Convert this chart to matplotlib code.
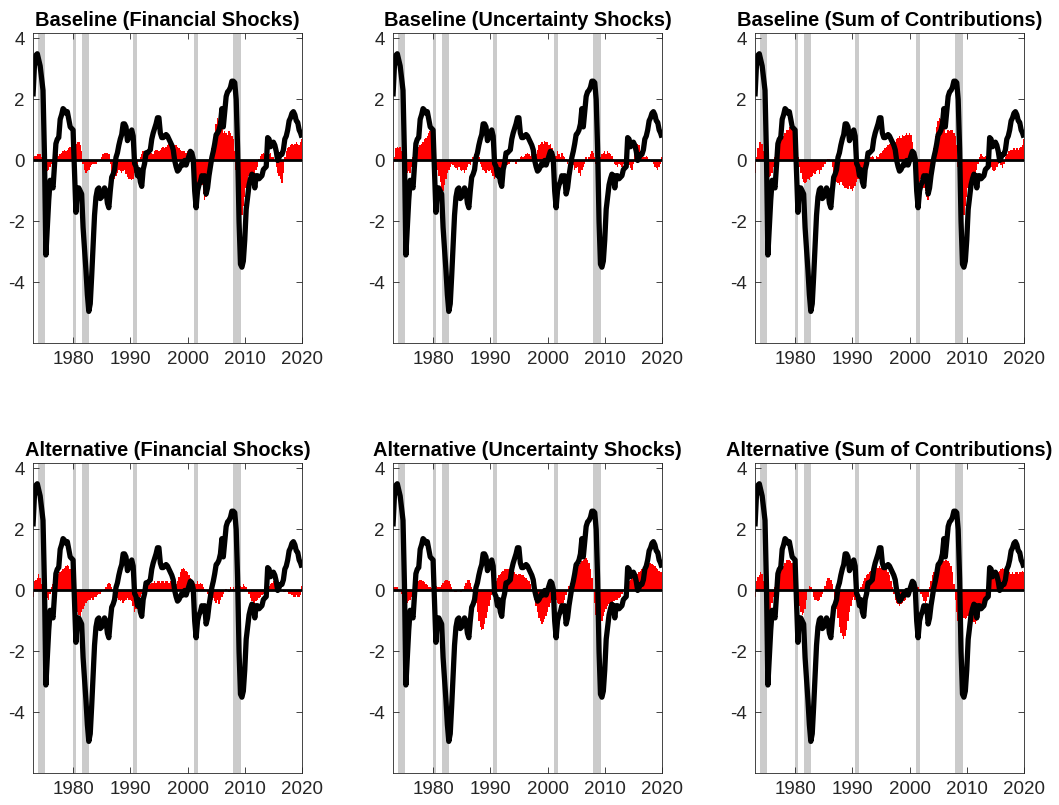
import numpy as np
import matplotlib
matplotlib.use("Agg")
import matplotlib.pyplot as plt

plt.rcParams['font.family'] = ['Liberation Sans', 'DejaVu Sans']

# quarterly dates 1973Q1 .. 2020Q1
start_year = 1973.0
end_year = 2020.0

titles = ["Baseline (Financial Shocks)", "Baseline (Uncertainty Shocks)", "Baseline (Sum of Contributions)",
          "Alternative (Financial Shocks)", "Alternative (Uncertainty Shocks)", "Alternative (Sum of Contributions)"]

xticks = [1980, 1990, 2000, 2010, 2020]
yticks = [-4, -2, 0, 2, 4]

# NBER recessions (start, end)
recessions = [(1973.83, 1975.17), (1980.0, 1980.5), (1981.5, 1982.83),
              (1990.5, 1991.17), (2001.17, 2001.83), (2007.92, 2009.42)]

# black line (same in every panel)
actual = [
    2.1, 3.1, 3.45, 3.5,      # 1973
    3.3, 3.1, 2.7, 2.3,       # 1974
    0.2, -3.1, -2.2, -1.3,    # 1975
    -0.65, -0.8, -0.9, -0.2,  # 1976
    0.55, 0.7, 0.75, 1.35,    # 1977
    1.5, 1.7, 1.65, 1.55,     # 1978
    1.6, 1.35, 1.1, 1.05,     # 1979
    1.0, -0.3, -1.7, -0.9,    # 1980
    -0.9, -1.0, -1.1, -2.2,   # 1981
    -2.9, -3.6, -4.4, -4.95,  # 1982
    -4.7, -3.8, -2.8, -1.8,   # 1983
    -1.2, -0.95, -0.9, -1.25, # 1984
    -1.2, -1.1, -0.9, -1.0,   # 1985
    -1.4, -1.55, -1.0, -0.55, # 1986
    -0.45, -0.3, 0.1, 0.25,   # 1987
    0.5, 0.7, 0.85, 1.2,      # 1988
    1.2, 1.1, 0.65, 0.75,     # 1989
    0.9, 1.0, 0.8, -0.1,      # 1990
    -0.2, -0.5, -0.3, -0.7,   # 1991
    -0.85, -0.3, -0.1, 0.25,  # 1992
    0.25, 0.3, 0.35, 0.7,     # 1993
    0.9, 1.05, 1.2, 1.4,      # 1994
    1.4, 0.9, 0.75, 0.75,     # 1995
    0.8, 0.85, 0.8, 0.7,      # 1996
    0.6, 0.5, 0.35, 0.0,      # 1997
    -0.2, -0.35, -0.3, -0.2,  # 1998
    -0.1, -0.15, 0.0, -0.15,  # 1999
    0.0, 0.15, 0.3, 0.25,     # 2000
    0.05, -1.0, -1.55, -1.0,  # 2001
    -0.8, -0.7, -0.5, -0.6,   # 2002
    -0.5, -1.1, -0.9, -0.5,   # 2003
    -0.2, 0.1, 0.3, 0.55,     # 2004
    0.85, 0.9, 1.0, 1.2,      # 2005
    1.7, 1.1, 1.6, 2.1,       # 2006
    2.25, 2.3, 2.4, 2.6,      # 2007
    2.6, 2.55, 2.0, 0.4,      # 2008
    -2.0, -3.4, -3.5, -3.3,   # 2009
    -2.6, -1.6, -1.2, -0.8,   # 2010
    -0.6, -0.45, -0.5, -0.9,  # 2011
    -0.5, -0.5, -0.6, -0.55,  # 2012
    -0.5, -0.3, -0.25, -0.2,  # 2013
    0.75, 0.7, 0.45, 0.55,    # 2014
    0.6, 0.5, 0.3, 0.0,       # 2015
    0.1, 0.2, 0.2, 0.35,      # 2016
    0.7, 0.8, 1.0, 1.3,       # 2017
    1.4, 1.55, 1.6, 1.5,      # 2018
    1.3, 1.25, 1.0, 0.9,      # 2019
    0.75,                     # 2020
]

base_fin = [
    0.1, 0.15, 0.15, 0.2,  0.2, 0.2, 0.1, -0.1,  -0.4, -0.45, -0.35, -0.3,  -0.2, -0.1, 0.05, 0.1,
    0.15, 0.2, 0.15, 0.2,  0.25, 0.3, 0.35, 0.3,  0.35, 0.4, 0.45, 0.4,  0.3, 0.4, 0.55, 0.6,
    0.6, 0.5, 0.3, -0.1,  -0.3, -0.4, -0.35, -0.3,  -0.2, -0.15, -0.1, -0.1,  -0.1, -0.05, 0.0, 0.05,
    0.1, 0.2, 0.25, 0.25,  0.25, 0.2, -0.1, -0.4,  -0.55, -0.6, -0.5, -0.4,  -0.3, -0.35, -0.4, -0.35,
    -0.3, -0.45, -0.55, -0.6,  -0.6, -0.65, -0.6, -0.4,  -0.2, -0.1, 0.0, 0.1,  0.2, 0.3, 0.3, 0.25,
    0.3, 0.35, 0.3, 0.25,  0.2, 0.3, 0.35, 0.35,  0.3, 0.35, 0.4, 0.45,  0.4, 0.45, 0.5, 0.55,
    0.55, 0.6, 0.55, 0.5,  0.5, 0.45, 0.4, 0.35,  0.3, 0.3, 0.3, 0.25,  0.3, 0.3, 0.2, 0.1,
    -0.3, -1.1, -1.0, -0.9,  -0.8, -0.7, -0.8, -1.1,  -1.3, -1.2, -0.8, -0.4,  0.1, 0.4, 0.6, 0.9,
    1.2, 1.4, 1.3, 1.1,  1.2, 0.9, 0.95, 0.9,  0.85, 0.95, 0.9, 0.8,  0.7, 0.3, -0.3, -1.2,
    -2.0, -2.3, -1.8, -1.5,  -1.2, -0.9, -0.7, -0.5,  -0.5, -0.4, -0.5, -0.4,  -0.3, -0.2, 0.05, 0.15,
    0.2, 0.25, 0.2, 0.15,  0.1, 0.2, 0.25, 0.1,  0.1, 0.0, -0.2, -0.4,  -0.5, -0.6, -0.75, -0.4,
    0.1, 0.3, 0.4, 0.45,  0.5, 0.55, 0.5, 0.55,  0.6, 0.55, 0.5, 0.6,  0.7,
]

base_unc = [
    -0.3, 0.1, 0.4, 0.45,  0.4, 0.45, 0.3, 0.1,  -0.1, -0.3, -0.4, -0.35,  -0.4, -0.2, 0.1, 0.2,
    0.3, 0.4, 0.45, 0.5,  0.55, 0.6, 0.7, 0.75,  0.8, 0.9, 0.95, 0.8,  0.5, 0.1, -0.2, -0.3,
    -0.5, -0.7, -0.9, -1.0,  -0.8, -0.6, -0.4, -0.3,  -0.2, -0.1, -0.15, -0.2,  -0.25, -0.3, -0.2, -0.3,
    -0.35, -0.3, -0.4, -0.3,  -0.2, -0.1, -0.15, 0.0,  0.1, 0.2, 0.25, 0.15,  0.1, -0.1, -0.2, -0.3,
    -0.35, -0.4, -0.3, -0.35,  -0.3, -0.4, -0.5, -0.6,  -0.55, -0.6, -0.5, -0.3,  -0.2, -0.1, -0.2, -0.1,
    -0.15, -0.1, -0.05, 0.0,  -0.05, 0.0, -0.1, 0.05,  0.05, 0.1, 0.15, 0.1,  0.15, 0.2, 0.25, 0.2,
    0.15, 0.2, 0.1, 0.1,  0.2, 0.35, 0.5, 0.55,  0.6, 0.55, 0.65, 0.6,  0.6, 0.5, 0.55, 0.4,
    0.3, 0.2, 0.15, 0.3,  0.2, 0.1, 0.25, 0.15,  0.1, 0.05, -0.1, 0.0,  -0.1, -0.2, -0.15, -0.3,
    -0.25, -0.2, -0.4, -0.5,  -0.3, -0.2, -0.1, 0.1,  0.0, 0.1, 0.2, 0.3,  0.25, 0.1, -0.1, 0.0,
    0.05, 0.1, 0.2, 0.25,  0.3, 0.2, 0.3, 0.25,  0.2, 0.15, 0.05, -0.1,  -0.15, -0.2, -0.1, -0.15,
    -0.2, -0.1, -0.05, -0.1,  -0.2, -0.15, -0.25, -0.3,  -0.1, 0.2, 0.4, 0.55,  0.5, 0.3, 0.2, 0.1,
    0.1, 0.15, 0.1, 0.05,  0.0, -0.05, -0.1, -0.2,  -0.25, -0.3, -0.2, -0.1,  0.1,
]

base_sum = [
    -0.4, 0.1, 0.4, 0.6,  0.6, 0.55, 0.3, 0.0,  -0.5, -0.6, -0.55, -0.5,  -0.4, -0.2, 0.1, 0.3,
    0.4, 0.6, 0.6, 0.7,  0.8, 0.9, 1.0, 1.0,  1.1, 1.15, 1.2, 1.1,  1.0, 0.5, 0.1, -0.2,
    -0.4, -0.6, -0.7, -0.75,  -0.7, -0.6, -0.65, -0.55,  -0.5, -0.4, -0.45, -0.35,  -0.3, -0.45, -0.3, -0.2,
    -0.2, -0.1, 0.0, 0.05,  0.05, 0.0, -0.2, -0.5,  -0.6, -0.7, -0.75, -0.8,  -0.7, -0.8, -0.85, -0.9,
    -0.9, -0.95, -0.85, -0.95,  -1.0, -0.9, -0.85, -0.7,  -0.6, -0.55, -0.5, -0.5,  -0.45, -0.3, -0.2, -0.1,
    0.0, 0.1, 0.15, 0.1,  0.05, 0.15, 0.1, 0.2,  0.25, 0.3, 0.35, 0.4,  0.45, 0.5, 0.55, 0.6,
    0.6, 0.65, 0.6, 0.7,  0.75, 0.8, 0.75, 0.85,  0.8, 0.85, 0.9, 0.85,  0.9, 0.85, 0.6, 0.3,
    -0.2, -0.6, -0.8, -0.7,  -0.6, -0.7, -0.9, -1.0,  -1.2, -1.3, -1.0, -0.6,  -0.1, 0.4, 0.8, 1.1,
    1.3, 1.4, 1.35, 1.2,  1.1, 0.9, 0.9, 1.0,  0.95, 1.0, 1.0, 0.9,  0.8, 0.5, -0.2, -1.0,
    -1.6, -2.0, -1.8, -1.5,  -1.2, -0.9, -0.7, -0.6,  -0.55, -0.5, -0.45, -0.3,  -0.1, 0.1, 0.2, 0.15,
    0.1, 0.15, 0.1, 0.05,  -0.1, -0.2, -0.3, -0.35,  -0.3, -0.2, -0.1, -0.05,  -0.15, -0.25, -0.1, 0.1,
    0.2, 0.3, 0.3, 0.35,  0.35, 0.4, 0.35, 0.4,  0.35, 0.4, 0.45, 0.5,  0.7,
]

alt_fin = [
    -0.2, 0.3, 0.35, 0.4,  0.55, 0.4, 0.2, 0.0,  -0.2, -0.3, -0.25, -0.3,  -0.1, 0.1, 0.2, 0.3,
    0.4, 0.5, 0.55, 0.6,  0.65, 0.7, 0.75, 0.8,  0.85, 0.8, 0.7, 0.5,  0.2, -0.2, -0.5, -0.7,
    -0.8, -0.85, -0.7, -0.6,  -0.5, -0.4, -0.35, -0.3,  -0.3, -0.25, -0.3, -0.2,  -0.2, -0.15, -0.1, -0.1,
    -0.05, 0.0, 0.05, 0.1,  0.2, 0.25, 0.2, 0.1,  0.0, -0.1, -0.2, -0.25,  -0.3, -0.35, -0.3, -0.4,
    -0.35, -0.3, -0.25, -0.3,  -0.3, -0.35, -0.5, -0.7,  -0.6, -0.5, -0.3, -0.2,  -0.1, 0.0, 0.05, 0.1,
    0.15, 0.2, 0.2, 0.25,  0.25, 0.3, 0.25, 0.3,  0.3, 0.25, 0.3, 0.3,  0.25, 0.3, 0.3, 0.25,
    0.3, 0.25, 0.2, 0.15,  0.2, 0.3, 0.45, 0.6,  0.7, 0.75, 0.7, 0.65,  0.6, 0.5, 0.4, 0.35,
    0.3, 0.25, 0.2, 0.3,  0.2, 0.25, 0.2, 0.1,  0.05, 0.0, -0.1, -0.15,  -0.2, -0.3, -0.25, -0.35,
    -0.4, -0.3, -0.45, -0.3,  -0.2, -0.1, 0.0, 0.05,  0.0, -0.05, 0.1, 0.05,  0.1, 0.05, 0.15, 0.2,
    0.2, 0.15, 0.1, 0.2,  0.15, 0.1, 0.0, -0.1,  -0.25, -0.35, -0.4, -0.4,  -0.35, -0.3, -0.25, -0.2,
    -0.15, -0.1, -0.05, 0.05,  0.1, 0.15, 0.2, 0.25,  0.3, 0.35, 0.4, 0.3,  0.2, 0.1, 0.0, -0.05,
    -0.05, 0.0, -0.05, -0.1,  -0.1, -0.15, -0.2, -0.2,  -0.15, -0.2, -0.2, -0.15,  0.15,
]

alt_unc = [
    0.1, 0.12, 0.12, 0.1,  0.05, 0.0, -0.1, -0.2,  -0.3, -0.4, -0.4, -0.35,  -0.3, -0.2, -0.05, 0.1,
    0.2, 0.28, 0.32, 0.35,  0.35, 0.32, 0.28, 0.22,  0.18, 0.12, 0.1, 0.08,  0.1, 0.12, 0.15, 0.12,
    0.1, 0.12, 0.18, 0.25,  0.3, 0.35, 0.35, 0.3,  0.2, 0.1, 0.0, -0.05,  -0.05, 0.0, 0.0, -0.05,
    -0.05, 0.05, 0.15, 0.25,  0.35, 0.35, 0.25, 0.1,  -0.05, -0.2, -0.4, -0.7,  -1.0, -1.2, -1.3, -1.25,
    -1.1, -0.9, -0.7, -0.5,  -0.3, -0.15, 0.0, 0.15,  0.3, 0.4, 0.5, 0.55,  0.6, 0.65, 0.7, 0.7,
    0.7, 0.72, 0.7, 0.65,  0.6, 0.6, 0.55, 0.5,  0.55, 0.55, 0.5, 0.5,  0.45, 0.4, 0.35, 0.3,
    0.2, 0.05, -0.1, -0.3,  -0.5, -0.7, -0.9, -1.0,  -1.1, -1.05, -0.95, -0.85,  -0.7, -0.55, -0.4, -0.3,
    -0.25, -0.2, -0.3, -0.4,  -0.45, -0.5, -0.45, -0.4,  -0.3, -0.15, 0.0, 0.15,  0.25, 0.35, 0.45, 0.55,
    0.65, 0.75, 0.85, 0.9,  0.95, 1.0, 1.05, 1.05,  1.0, 0.9, 0.7, 0.4,  0.0, -0.4, -0.8, -1.1,
    -1.2, -1.15, -1.0, -0.85,  -0.7, -0.6, -0.5, -0.45,  -0.4, -0.4, -0.35, -0.35,  -0.3, -0.3, -0.25, -0.2,
    -0.1, 0.0, 0.1, 0.15,  0.2, 0.3, 0.35, 0.4,  0.4, 0.45, 0.5, 0.55,  0.6, 0.65, 0.7, 0.75,
    0.8, 0.85, 0.9, 0.9,  0.9, 0.88, 0.85, 0.8,  0.75, 0.7, 0.65, 0.62,  0.6,
]

alt_sum = [
    -0.2, 0.3, 0.45, 0.5,  0.6, 0.55, 0.3, 0.0,  -0.4, -0.7, -0.7, -0.6,  -0.4, -0.2, 0.1, 0.3,
    0.4, 0.55, 0.6, 0.7,  0.8, 0.9, 1.0, 1.0,  1.0, 0.95, 0.9, 0.7,  0.4, 0.1, -0.2, -0.5,
    -0.7, -0.8, -0.75, -0.6,  -0.3, 0.0, 0.15, 0.1,  -0.05, -0.2, -0.3, -0.3,  -0.35, -0.3, -0.2, -0.1,
    0.0, 0.15, 0.3, 0.4,  0.4, 0.35, 0.2, 0.0,  -0.3, -0.6, -0.9, -1.2,  -1.4, -1.5, -1.6, -1.5,
    -1.3, -1.0, -0.7, -0.5,  -0.3, -0.2, -0.3, -0.2,  -0.1, 0.0, 0.1, 0.2,  0.3, 0.4, 0.5, 0.55,
    0.6, 0.65, 0.7, 0.75,  0.7, 0.8, 0.75, 0.8,  0.75, 0.8, 0.7, 0.75,  0.7, 0.6, 0.5, 0.3,
    0.1, -0.1, -0.3, -0.4,  -0.45, -0.5, -0.45, -0.4,  -0.35, -0.3, -0.2, -0.1,  0.0, 0.1, 0.05, 0.1,
    0.05, 0.0, 0.1, 0.05,  -0.1, -0.2, -0.35, -0.4,  -0.35, -0.2, 0.1, 0.3,  0.5, 0.6, 0.7, 0.75,
    0.8, 0.85, 0.9, 0.95,  0.95, 1.0, 1.0, 0.95,  0.9, 0.8, 0.6, 0.2,  -0.3, -0.7, -1.0, -1.1,
    -1.1, -1.0, -0.9, -0.95,  -0.9, -0.85, -0.9, -1.0,  -1.0, -1.05, -1.1, -1.0,  -0.9, -0.8, -0.6, -0.45,
    -0.35, -0.2, 0.1, 0.4,  0.6, 0.7, 0.7, 0.65,  0.6, 0.55, 0.6, 0.65,  0.7, 0.75, 0.7, 0.65,
    0.6, 0.65, 0.6, 0.55,  0.6, 0.55, 0.6, 0.6,  0.55, 0.6, 0.6, 0.65,  0.6,
]

contributions = [base_fin, base_unc, base_sum, alt_fin, alt_unc, alt_sum]

dates = np.arange(start_year, end_year + 0.001, 0.25)
n = len(dates)
assert len(actual) == n, (len(actual), n)
for c in contributions:
    assert len(c) == n, (len(c), n)

W, H = 1059, 805
fig = plt.figure(figsize=(W / 100, H / 100), dpi=100)

col_left = [33, 393, 755]
ax_w = 269
row_top = [33, 463]
ax_h = 309.5

txt_col = '#262626'
for k in range(6):
    r, c = divmod(k, 3)
    left = col_left[c] / W
    bottom = 1 - (row_top[r] + ax_h) / H
    ax = fig.add_axes([left, bottom, ax_w / W, ax_h / H])
    for (s, e) in recessions:
        ax.axvspan(s, e, color='#cbcbcb', lw=0, zorder=1)
    ax.bar(dates, contributions[k], width=0.25, color='#ff0000', linewidth=0, zorder=2)
    ax.axhline(0, color='black', lw=2.0, zorder=3)
    ax.plot(dates, actual, color='black', lw=3.8, zorder=4,
            solid_joinstyle='round', solid_capstyle='butt')
    ax.set_xlim(1973.0, 2020.0)
    ax.set_ylim(-5.97, 4.18)
    ax.set_xticks(xticks)
    ax.set_yticks(yticks)
    ax.set_xticklabels([str(t) for t in xticks])
    ax.set_yticklabels([str(t) for t in yticks])
    ax.tick_params(direction='in', top=True, right=True, length=4, width=0.6,
                   colors=txt_col, labelsize=13.5, pad=6)
    for sp in ax.spines.values():
        sp.set_linewidth(0.6)
        sp.set_color('#262626')
        sp.set_zorder(5)
    ax.set_title(titles[k], fontsize=14.4, fontweight='bold', color='black', pad=5)

fig.savefig('out.png', dpi=100)
